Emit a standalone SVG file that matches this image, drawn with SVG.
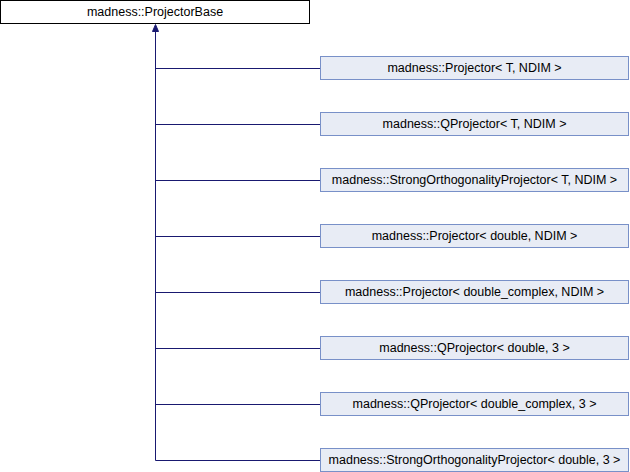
<svg xmlns="http://www.w3.org/2000/svg" width="630" height="472" viewBox="0 0 630 472">
<style>
.base rect{fill:#ffffff;stroke:#000000;stroke-width:1}
.node rect{fill:#e8ecf5;stroke:#7890c8;stroke-width:1}
text{font-family:"Liberation Sans",Arial,sans-serif;font-size:12.5px;fill:#000000;text-anchor:middle}
.edges path{fill:none;stroke:#191970;stroke-width:1}
</style>
<rect width="630" height="472" fill="#ffffff"/>
<g class="edges" id="connectors">
<path d="M155.5,31 V460.5"/>
<path d="M155.5,68.5 H320"/>
<path d="M155.5,124.5 H320"/>
<path d="M155.5,180.5 H320"/>
<path d="M155.5,236.5 H320"/>
<path d="M155.5,292.5 H320"/>
<path d="M155.5,348.5 H320"/>
<path d="M155.5,404.5 H320"/>
<path d="M155.5,460.5 H320"/>
<polygon points="155.5,24.5 152.5,31.5 158.5,31.5" fill="#191970" stroke="#191970" stroke-width="1"/>
</g>
<g id="ProjectorBase" class="base"><rect x="0.5" y="0.5" width="309" height="23"/><text x="155" y="16">madness::ProjectorBase</text></g>
<g id="n1" class="node"><rect x="320.5" y="56.5" width="308" height="23"/><text x="474.5" y="72">madness::Projector&lt; T, NDIM &gt;</text></g>
<g id="n2" class="node"><rect x="320.5" y="112.5" width="308" height="23"/><text x="474.5" y="128">madness::QProjector&lt; T, NDIM &gt;</text></g>
<g id="n3" class="node"><rect x="320.5" y="168.5" width="308" height="23"/><text x="474.5" y="184">madness::StrongOrthogonalityProjector&lt; T, NDIM &gt;</text></g>
<g id="n4" class="node"><rect x="320.5" y="224.5" width="308" height="23"/><text x="474.5" y="240">madness::Projector&lt; double, NDIM &gt;</text></g>
<g id="n5" class="node"><rect x="320.5" y="280.5" width="308" height="23"/><text x="474.5" y="296">madness::Projector&lt; double_complex, NDIM &gt;</text></g>
<g id="n6" class="node"><rect x="320.5" y="336.5" width="308" height="23"/><text x="474.5" y="352">madness::QProjector&lt; double, 3 &gt;</text></g>
<g id="n7" class="node"><rect x="320.5" y="392.5" width="308" height="23"/><text x="474.5" y="408">madness::QProjector&lt; double_complex, 3 &gt;</text></g>
<g id="n8" class="node"><rect x="320.5" y="448.5" width="308" height="23"/><text x="474.5" y="464">madness::StrongOrthogonalityProjector&lt; double, 3 &gt;</text></g>
</svg>
